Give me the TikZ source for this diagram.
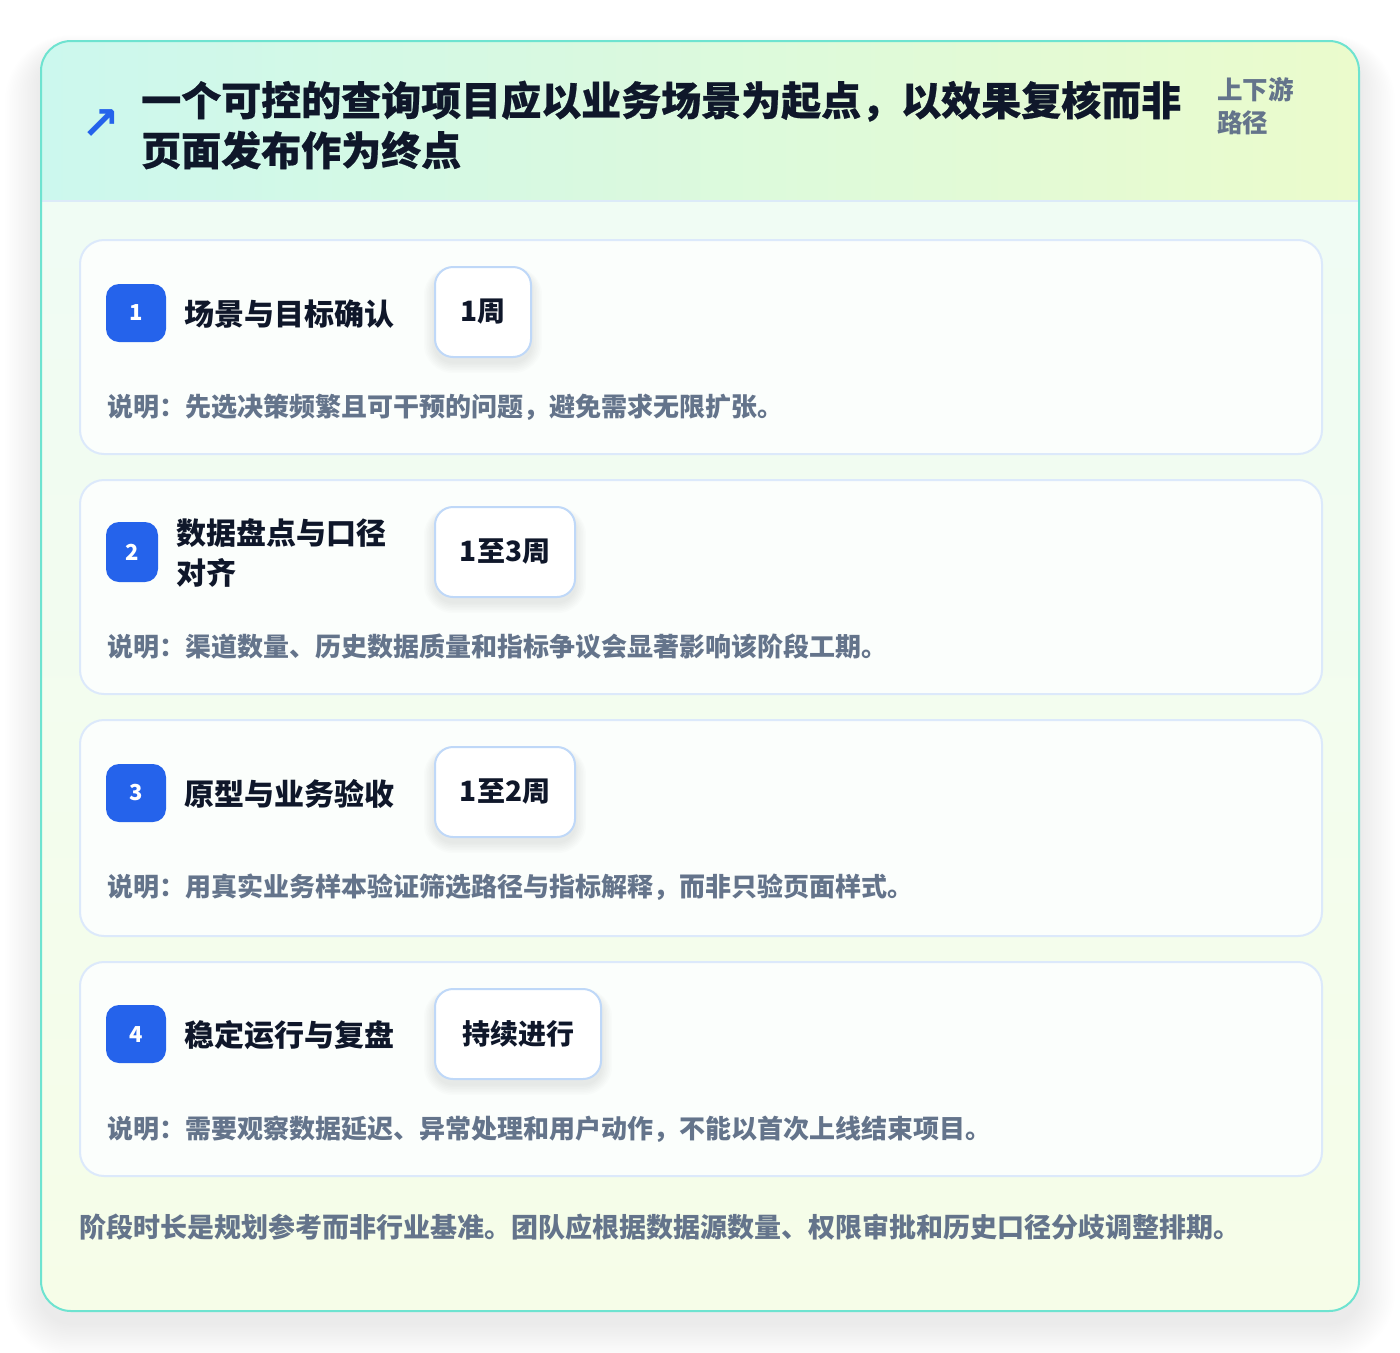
\documentclass[tikz,border=0pt]{standalone}
\usepackage{fontspec}
\setmainfont{Noto Sans CJK SC}
\newfontfamily\heavyfont{Noto Sans CJK SC}[BoldFeatures={FakeBold=0.6}]
\newfontfamily\symfont{DejaVu Sans}
\definecolor{outerB}{HTML}{6EE3D0}
\definecolor{hdrL}{HTML}{CCF8EE}
\definecolor{hdrR}{HTML}{EBFBCC}
\definecolor{bodyTop}{HTML}{EFFCF6}
\definecolor{bodyBot}{HTML}{F6FDE8}
\definecolor{sepC}{HTML}{DCEAF8}
\definecolor{cardB}{HTML}{DCE9FB}
\definecolor{cardF}{HTML}{FBFEFC}
\definecolor{badgeC}{HTML}{2563EB}
\definecolor{pillB}{HTML}{BFD8F8}
\definecolor{darkT}{HTML}{0F172A}
\definecolor{grayT}{HTML}{64748B}
\tikzset{
  stepcard/.style={draw=cardB, line width=2pt, fill=cardF, rounded corners=24pt, inner sep=0pt, anchor=north west, minimum width=1242pt},
  badge/.style={fill=badgeC, rounded corners=13pt, text=white, inner sep=0pt, font=\fontsize{22}{24}\selectfont\bfseries},
  steptitle/.style={anchor=west, inner sep=0pt, text=darkT, align=left, font=\fontsize{30}{40}\selectfont\bfseries},
  pill/.style={draw=pillB, line width=2pt, fill=white, rounded corners=18pt, inner sep=0pt, minimum height=90pt, text=darkT, font=\fontsize{28}{30}\selectfont\bfseries},
  desc/.style={anchor=west, inner sep=0pt, text=grayT, font=\fontsize{26}{30}\selectfont\bfseries},
  shadowlayer/.style={fill=black, fill opacity=#1},
}
% soft shadow: #1 = x0, #2 = y0, #3 = x1, #4 = y1 (pixel coords), #5 radius, #6 layers, #7 step, #8 yshift, #9 opacity
\newcommand{\softshadow}[9]{%
  \foreach \i in {1,...,#6}{%
    \pgfmathsetmacro{\ex}{\i*#7}%
    \pgfmathsetmacro{\rr}{#5+\ex}%
    \fill[shadowlayer=#9, rounded corners=\rr pt] (#1-\ex, #2-\ex*0.5+#8) rectangle (#3+\ex, #4+\ex+#8);
  }%
}
\begin{document}
\begin{tikzpicture}[x=1pt,y=-1pt]
\useasboundingbox (0,0) rectangle (1400,1352);
\fill[white] (0,0) rectangle (1400,1352);
% outer card shadow
\softshadow{41}{41}{1359}{1311}{30}{20}{1.8}{12}{0.0045}
\shade[top color=bodyTop, bottom color=bodyBot, rounded corners=30pt] (41,41) rectangle (1359,1311);
\begin{scope}
\clip[rounded corners=30pt] (41,41) rectangle (1359,1311);
\shade[left color=hdrL, right color=hdrR] (41,41) rectangle (1359,201);
\end{scope}
\draw[sepC, line width=2pt] (42,201) -- (1358,201);
\draw[outerB, line width=2pt, rounded corners=30pt] (41,41) rectangle (1359,1311);
% header
\node[text=badgeC, inner sep=0pt, font=\symfont\bfseries\fontsize{46}{46}\selectfont] (icon) at (101,125) {↗};
\node[anchor=west, inner sep=0pt, text=darkT, align=left, font=\heavyfont\fontsize{40}{50}\selectfont\bfseries] (title) at (141,125) {一个可控的查询项目应以业务场景为起点，以效果复核而非\\页面发布作为终点};
\node[anchor=west, inner sep=0pt, text=grayT, align=left, font=\fontsize{25.5}{33}\selectfont\bfseries] (tag) at (1217,106) {上下游\\路径};
% cards
\node[stepcard, minimum height=214pt] (c1) at (79,239) {};
\node[stepcard, minimum height=214pt] (c2) at (79,479) {};
\node[stepcard, minimum height=216pt] (c3) at (79,719) {};
\node[stepcard, minimum height=214pt] (c4) at (79,961) {};
% badges
\node[badge, minimum width=60pt, minimum height=58pt] (b1) at (136,313) {1};
\node[badge, minimum width=52pt, minimum height=60pt] (b2) at (132,552) {2};
\node[badge, minimum width=60pt, minimum height=58pt] (b3) at (136,793) {3};
\node[badge, minimum width=60pt, minimum height=58pt] (b4) at (136,1034) {4};
% titles
\node[steptitle] (t1) at (184,314) {场景与目标确认};
\node[steptitle] (t2) at (176,553) {数据盘点与口径\\对齐};
\node[steptitle] (t3) at (184,794) {原型与业务验收};
\node[steptitle] (t4) at (184,1035) {稳定运行与复盘};
% pill shadows
\softshadow{435}{267}{531}{357}{18}{7}{1.6}{5}{0.011}
\softshadow{435}{507}{575}{597}{18}{7}{1.6}{5}{0.011}
\softshadow{435}{747}{575}{837}{18}{7}{1.6}{5}{0.011}
\softshadow{435}{989}{601}{1079}{18}{7}{1.6}{5}{0.011}
% pills
\node[pill, minimum width=96pt] (p1) at (483,312) {1周};
\node[pill, minimum width=140pt] (p2) at (505,552) {1至3周};
\node[pill, minimum width=140pt] (p3) at (505,792) {1至2周};
\node[pill, minimum width=166pt] (p4) at (518,1034) {持续进行};
% descriptions
\node[desc] (d1) at (107,407) {说明：先选决策频繁且可干预的问题，避免需求无限扩张。};
\node[desc] (d2) at (107,647) {说明：渠道数量、历史数据质量和指标争议会显著影响该阶段工期。};
\node[desc] (d3) at (107,887) {说明：用真实业务样本验证筛选路径与指标解释，而非只验页面样式。};
\node[desc] (d4) at (107,1129) {说明：需要观察数据延迟、异常处理和用户动作，不能以首次上线结束项目。};
% footer
\node[anchor=west, inner sep=0pt, text=grayT, font=\fontsize{27}{30}\selectfont\bfseries] (foot) at (79,1227) {阶段时长是规划参考而非行业基准。团队应根据数据源数量、权限审批和历史口径分歧调整排期。};
\end{tikzpicture}
\end{document}
